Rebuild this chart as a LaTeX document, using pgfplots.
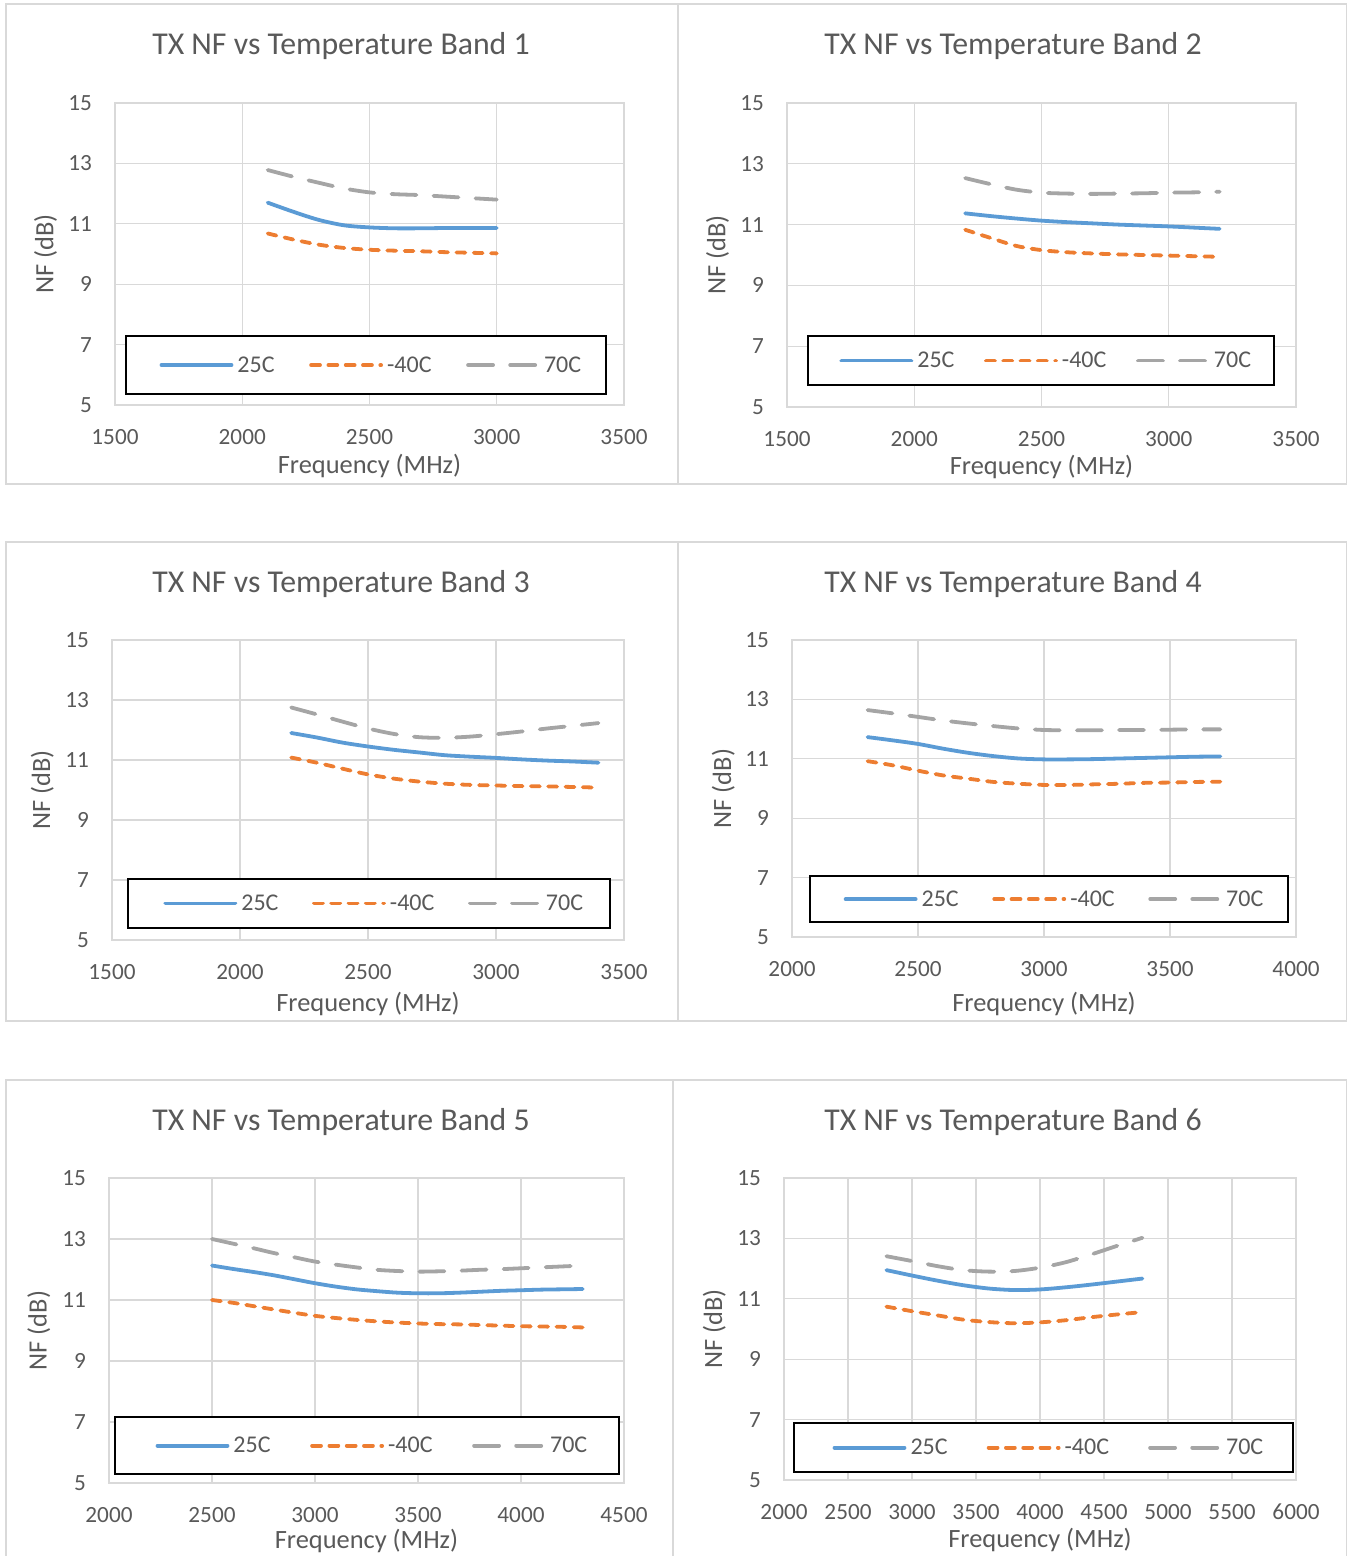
\documentclass[border=0pt]{standalone}
\usepackage{fontspec}
\setmainfont{Carlito}
\usepackage{pgfplots}
\pgfplotsset{compat=1.18}
\definecolor{txt}{HTML}{595959}
\definecolor{grd}{HTML}{D9D9D9}
\definecolor{cA}{HTML}{5B9BD5}
\definecolor{cB}{HTML}{ED7D31}
\definecolor{cC}{HTML}{A5A5A5}
\newcommand\ttl{\fontsize{31.8}{36}\selectfont}
\newcommand\tck{\fontsize{23.2}{27}\selectfont}
\newcommand\lgf{\fontsize{24}{28}\selectfont}
\newcommand\lbl{\fontsize{26.4}{30}\selectfont}
\pgfplotsset{
  nf/.style={
    scale only axis, anchor=south west,
    ymin=5, ymax=15, ytick={5,7,9,11,13,15},
    grid=major, major grid style={draw=grd, line width=1.3pt},
    axis line style={draw=grd, line width=1.3pt},
    major tick length=0pt, tick style={draw=none},
    scaled x ticks=false, scaled y ticks=false,
    /pgf/number format/1000 sep={},
    /pgf/number format/assume math mode=true,
    tick label style={font=\tck, text=txt},
    xticklabel style={anchor=center, yshift=-32pt},
    yticklabel style={anchor=east, inner sep=0pt, xshift=-23pt},
    xlabel={Frequency (MHz)}, ylabel={NF (dB)},
    label style={font=\lbl, text=txt},
    ylabel style={at={(axis description cs:-0.121,0.5)}, anchor=base},
    legend columns=3, legend cell align=left,
    legend style={draw=black, line width=2pt, font=\lgf, text=txt, anchor=south west,
      nodes={inner xsep=0pt, inner ysep=4pt}},
    legend image code/.code={\path[draw=none,fill=none] (0pt,0pt) (86.5pt,0pt);\draw[##1] (10.5pt,0pt) -- (80.5pt,0pt);},
  },
  xl/.style={xlabel style={at={(axis description cs:0.5,#1)}, anchor=base}},
  lg/.style n args={5}{legend style={at={(#1,#2)}, inner xsep=#3pt, inner ysep=#4pt,
      /tikz/every even column/.append style={column sep=#5pt}}},
  s1/.style={color=cA, line width=3.8pt, line cap=round, smooth},
  s2/.style={color=cB, line width=3.8pt, line cap=round, smooth, dash pattern=on 8.9pt off 8.4pt},
  s3/.style={color=cC, line width=3.8pt, line cap=round, smooth, dash pattern=on 25pt off 17.1pt},
}
\begin{document}
\begin{tikzpicture}
\useasboundingbox (0pt,0pt) rectangle (1347pt,1556pt);
% panel frames
\draw[grd, line width=1.3pt] (6pt,1552pt) rectangle (678pt,1072pt);
\draw[grd, line width=1.3pt] (678pt,1552pt) rectangle (1346.5pt,1072pt);
\draw[grd, line width=1.3pt] (6pt,1014pt) rectangle (678pt,535pt);
\draw[grd, line width=1.3pt] (678pt,1014pt) rectangle (1346.5pt,535pt);
\draw[grd, line width=1.3pt] (6pt,476pt) rectangle (673pt,-6pt);
\draw[grd, line width=1.3pt] (673pt,476pt) rectangle (1346.5pt,-6pt);
% titles
\node[anchor=base, text=txt, font=\ttl] at (341pt,1501pt) {TX NF vs Temperature Band 1};
\node[anchor=base, text=txt, font=\ttl] at (1013pt,1501pt) {TX NF vs Temperature Band 2};
\node[anchor=base, text=txt, font=\ttl] at (341pt,963pt) {TX NF vs Temperature Band 3};
\node[anchor=base, text=txt, font=\ttl] at (1013pt,963pt) {TX NF vs Temperature Band 4};
\node[anchor=base, text=txt, font=\ttl] at (341pt,425pt) {TX NF vs Temperature Band 5};
\node[anchor=base, text=txt, font=\ttl] at (1013pt,425pt) {TX NF vs Temperature Band 6};

% Band 1
\begin{axis}[nf, at={(115pt,1151pt)}, width=509pt, height=302pt,
  xmin=1500, xmax=3500, xtick={1500,2000,2500,3000,3500}, xl=-0.2285,
  lg={0.0196}{0.033}{25}{16.4}{26}]
\addplot[s1] coordinates {(2100,11.70)(2200,11.40)(2300,11.13)(2400,10.95)(2500,10.88)(2600,10.85)(2700,10.85)(2800,10.86)(2900,10.86)(3000,10.86)};
\addlegendentry{25C}
\addplot[s2] coordinates {(2100,10.68)(2200,10.48)(2300,10.31)(2400,10.20)(2500,10.14)(2600,10.11)(2700,10.09)(2800,10.06)(2900,10.04)(3000,10.02)};
\addlegendentry{-40C}
\addplot[s3] coordinates {(2100,12.78)(2200,12.56)(2300,12.36)(2400,12.17)(2500,12.04)(2600,11.98)(2700,11.95)(2800,11.90)(2900,11.85)(3000,11.80)};
\addlegendentry{70C}
\end{axis}

% Band 2
\begin{axis}[nf, at={(787pt,1149pt)}, width=509pt, height=304pt,
  xmin=1500, xmax=3500, xtick={1500,2000,2500,3000,3500}, xl=-0.2205,
  lg={0.039}{0.069}{23}{11.9}{21}]
\addplot[s1] coordinates {(2200,11.37)(2300,11.28)(2400,11.20)(2500,11.13)(2600,11.08)(2700,11.04)(2800,11.00)(2900,10.97)(3000,10.94)(3100,10.90)(3200,10.86)};
\addlegendentry{25C}
\addplot[s2] coordinates {(2200,10.83)(2300,10.56)(2400,10.30)(2500,10.16)(2600,10.09)(2700,10.05)(2800,10.02)(2900,10.00)(3000,9.98)(3100,9.96)(3200,9.94)};
\addlegendentry{-40C}
\addplot[s3] coordinates {(2200,12.53)(2300,12.33)(2400,12.15)(2500,12.05)(2600,12.02)(2700,12.01)(2800,12.02)(2900,12.03)(3000,12.05)(3100,12.06)(3200,12.08)};
\addlegendentry{70C}
\end{axis}

% Band 3
\begin{axis}[nf, at={(112pt,616pt)}, width=512pt, height=300pt,
  xmin=1500, xmax=3500, xtick={1500,2000,2500,3000,3500}, xl=-0.2387,
  lg={0.029}{0.037}{27}{11.9}{25}]
\addplot[s1] coordinates {(2200,11.90)(2300,11.75)(2400,11.58)(2500,11.45)(2600,11.34)(2700,11.25)(2800,11.16)(2900,11.11)(3000,11.07)(3100,11.02)(3200,10.98)(3300,10.95)(3400,10.91)};
\addlegendentry{25C}
\addplot[s2] coordinates {(2200,11.08)(2300,10.91)(2400,10.71)(2500,10.52)(2600,10.38)(2700,10.28)(2800,10.21)(2900,10.17)(3000,10.15)(3100,10.13)(3200,10.12)(3300,10.10)(3400,10.08)};
\addlegendentry{-40C}
\addplot[s3] coordinates {(2200,12.75)(2300,12.52)(2400,12.28)(2500,12.05)(2600,11.87)(2700,11.76)(2800,11.74)(2900,11.78)(3000,11.86)(3100,11.95)(3200,12.05)(3300,12.14)(3400,12.23)};
\addlegendentry{70C}
\end{axis}

% Band 4
\begin{axis}[nf, at={(792pt,619pt)}, width=504pt, height=297pt,
  xmin=2000, xmax=4000, xtick={2000,2500,3000,3500,4000}, xl=-0.251,
  lg={0.034}{0.047}{25}{10.4}{25}]
\addplot[s1] coordinates {(2300,11.73)(2400,11.62)(2500,11.50)(2600,11.34)(2700,11.20)(2800,11.09)(2900,11.01)(3000,10.98)(3100,10.98)(3200,10.99)(3300,11.01)(3400,11.03)(3500,11.05)(3600,11.07)(3700,11.08)};
\addlegendentry{25C}
\addplot[s2] coordinates {(2300,10.92)(2400,10.78)(2500,10.60)(2600,10.44)(2700,10.33)(2800,10.22)(2900,10.16)(3000,10.12)(3100,10.12)(3200,10.14)(3300,10.16)(3400,10.19)(3500,10.20)(3600,10.22)(3700,10.23)};
\addlegendentry{-40C}
\addplot[s3] coordinates {(2300,12.64)(2400,12.53)(2500,12.41)(2600,12.29)(2700,12.19)(2800,12.10)(2900,12.02)(3000,11.97)(3100,11.96)(3200,11.96)(3300,11.97)(3400,11.97)(3500,11.98)(3600,11.99)(3700,11.99)};
\addlegendentry{70C}
\end{axis}

% Band 5
\begin{axis}[nf, at={(109pt,73pt)}, width=515pt, height=305pt,
  xmin=2000, xmax=4500, xtick={2000,2500,3000,3500,4000,4500}, xl=-0.2152,
  lg={0.0097}{0.026}{32}{15.9}{31}]
\addplot[s1] coordinates {(2500,12.13)(2600,12.02)(2700,11.92)(2800,11.81)(2900,11.68)(3000,11.55)(3100,11.44)(3200,11.35)(3300,11.29)(3400,11.24)(3500,11.22)(3600,11.22)(3700,11.24)(3800,11.27)(3900,11.30)(4000,11.32)(4100,11.34)(4200,11.35)(4300,11.36)};
\addlegendentry{25C}
\addplot[s2] coordinates {(2500,11.00)(2600,10.91)(2700,10.80)(2800,10.69)(2900,10.58)(3000,10.48)(3100,10.41)(3200,10.35)(3300,10.30)(3400,10.26)(3500,10.23)(3600,10.21)(3700,10.20)(3800,10.18)(3900,10.16)(4000,10.14)(4100,10.13)(4200,10.12)(4300,10.10)};
\addlegendentry{-40C}
\addplot[s3] coordinates {(2500,13.00)(2600,12.85)(2700,12.70)(2800,12.54)(2900,12.40)(3000,12.26)(3100,12.16)(3200,12.07)(3300,11.99)(3400,11.95)(3500,11.93)(3600,11.94)(3700,11.96)(3800,11.99)(3900,12.01)(4000,12.04)(4100,12.07)(4200,12.10)(4300,12.13)};
\addlegendentry{70C}
\end{axis}

% Band 6
\begin{axis}[nf, at={(784pt,76pt)}, width=512pt, height=302pt,
  xmin=2000, xmax=6000, xtick={2000,2500,3000,3500,4000,4500,5000,5500,6000}, xl=-0.225,
  lg={0.0176}{0.023}{30}{11.9}{30.5}]
\addplot[s1] coordinates {(2800,11.95)(3000,11.77)(3200,11.60)(3400,11.45)(3600,11.34)(3800,11.29)(4000,11.31)(4200,11.38)(4400,11.47)(4600,11.57)(4800,11.67)};
\addlegendentry{25C}
\addplot[s2] coordinates {(2800,10.74)(3000,10.59)(3200,10.45)(3400,10.31)(3600,10.23)(3800,10.19)(4000,10.22)(4200,10.29)(4400,10.39)(4600,10.48)(4800,10.56)};
\addlegendentry{-40C}
\addplot[s3] coordinates {(2800,12.41)(3000,12.25)(3200,12.08)(3400,11.95)(3600,11.90)(3800,11.92)(4000,12.03)(4200,12.21)(4400,12.47)(4600,12.75)(4800,13.02)};
\addlegendentry{70C}
\end{axis}
\end{tikzpicture}
\end{document}
